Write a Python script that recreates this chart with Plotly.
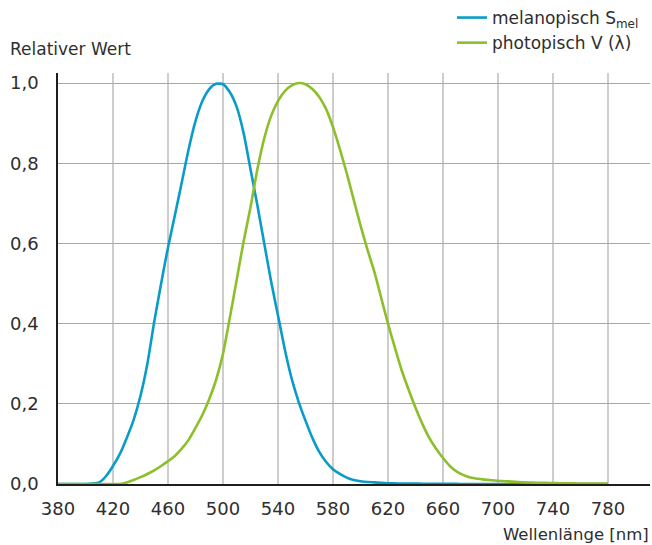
import plotly.graph_objects as go

# Wavelength grid (nm)
wavelength = list(range(380, 785, 5))

# Melanopic action spectrum s_mel(λ), relative
melanopic = [
    0, 0, 0, 0, 0, 0.001, 0.004, 0.02, 0.045, 0.075,          # 380-425
    0.115, 0.16, 0.22, 0.30, 0.405, 0.50, 0.59, 0.67, 0.752, 0.835,  # 430-475
    0.905, 0.955, 0.985, 0.998, 0.997, 0.977, 0.94, 0.875, 0.785, 0.695,  # 480-525
    0.60, 0.505, 0.42, 0.335, 0.262, 0.205, 0.158, 0.115, 0.08, 0.055,  # 530-575
    0.037, 0.025, 0.016, 0.01, 0.007, 0.005, 0.004, 0.003, 0.002, 0.0015,  # 580-625
    0.001, 0.001, 0.001, 0.0008, 0.0006, 0.0005, 0.0004, 0.0003, 0.0002, 0.0001,  # 630-675
    0, 0, 0, 0, 0, 0, 0, 0, 0, 0,                              # 680-725
    0, 0, 0, 0, 0, 0, 0, 0, 0, 0,                              # 730-775
    0,                                                         # 780
]

# Photopic luminous efficiency V(λ), relative
photopic = [
    0, 0, 0, 0, 0, 0, 0, 0, 0, 0,                              # 380-425
    0.004, 0.01, 0.017, 0.025, 0.034, 0.045, 0.057, 0.07, 0.088, 0.11,  # 430-475
    0.14, 0.172, 0.212, 0.26, 0.325, 0.415, 0.51, 0.605, 0.69, 0.785,  # 480-525
    0.862, 0.918, 0.955, 0.98, 0.994, 1.0, 0.997, 0.985, 0.965, 0.935,  # 530-575
    0.89, 0.835, 0.775, 0.71, 0.645, 0.585, 0.53, 0.465, 0.40, 0.34,  # 580-625
    0.283, 0.235, 0.19, 0.15, 0.115, 0.088, 0.065, 0.045, 0.031, 0.022,  # 630-675
    0.016, 0.013, 0.011, 0.0095, 0.008, 0.007, 0.006, 0.005, 0.004, 0.0035,  # 680-725
    0.003, 0.0027, 0.0024, 0.002, 0.0017, 0.0015, 0.0013, 0.0011, 0.001, 0.001,  # 730-775
    0.001,                                                     # 780
]

x_ticks = [380, 420, 460, 500, 540, 580, 620, 660, 700, 740, 780]
y_ticks = [0.0, 0.2, 0.4, 0.6, 0.8, 1.0]

BLUE = "#0a9cc8"
GREEN = "#8cbf2a"
TEXT = "#2e2e2e"
FONT = "DejaVu Sans"

fig = go.Figure()
fig.add_trace(go.Scatter(
    x=wavelength, y=melanopic, mode="lines",
    name="melanopisch S<sub>mel</sub>",
    line=dict(color=BLUE, width=2.6, shape="spline", smoothing=0.6),
    legendgroup="a",
))
fig.add_trace(go.Scatter(
    x=wavelength, y=photopic, mode="lines",
    name="photopisch V (λ)",
    line=dict(color=GREEN, width=2.6, shape="spline", smoothing=0.6),
    legendgroup="b",
))

fig.update_layout(
    width=652, height=545,
    margin=dict(l=58, r=2, t=73, b=61, autoexpand=False),
    paper_bgcolor="white", plot_bgcolor="white",
    separators=",.",
    font=dict(family=FONT, size=18, color=TEXT),
    showlegend=True,
    legend=dict(
        xref="container", yref="container",
        x=452 / 652, y=1 + 1 / 545, xanchor="left", yanchor="top",
        font=dict(family=FONT, size=17, color=TEXT),
        itemwidth=30, tracegroupgap=0,
        bgcolor="rgba(0,0,0,0)", borderwidth=0,
    ),
    xaxis=dict(
        range=[380, 380 + 592 / 1.375],
        tickmode="array", tickvals=x_ticks,
        ticktext=[str(v) for v in x_ticks],
        ticks="", ticklabelstandoff=8, tickangle=0,
        showgrid=True, gridcolor="#cdcdcd", gridwidth=1.6,
        showline=True, linecolor="#1e1e1e", linewidth=1.5,
        zeroline=False, layer="below traces",
        tickfont=dict(family=FONT, size=18, color=TEXT),
    ),
    yaxis=dict(
        range=[0, 1.025],
        tickmode="array", tickvals=y_ticks, tickformat=".1f",
        ticks="", ticklabelstandoff=14,
        showgrid=True, gridcolor="#a8a8a8", gridwidth=1.1,
        showline=True, linecolor="#1e1e1e", linewidth=1.5,
        zeroline=False, layer="below traces",
        tickfont=dict(family=FONT, size=18, color=TEXT),
    ),
    annotations=[
        dict(text="Relativer Wert", xref="paper", yref="paper",
             x=(8 - 58) / 592, y=(484 - 48.5) / 411,
             xanchor="left", yanchor="middle", showarrow=False,
             font=dict(family=FONT, size=17, color=TEXT)),
        dict(text="Wellenlänge [nm]", xref="paper", yref="paper",
             x=(651 - 58) / 592, y=(484 - 534) / 411,
             xanchor="right", yanchor="middle", showarrow=False,
             font=dict(family=FONT, size=16.5, color=TEXT)),
    ],
)

fig.write_html("out.html")
